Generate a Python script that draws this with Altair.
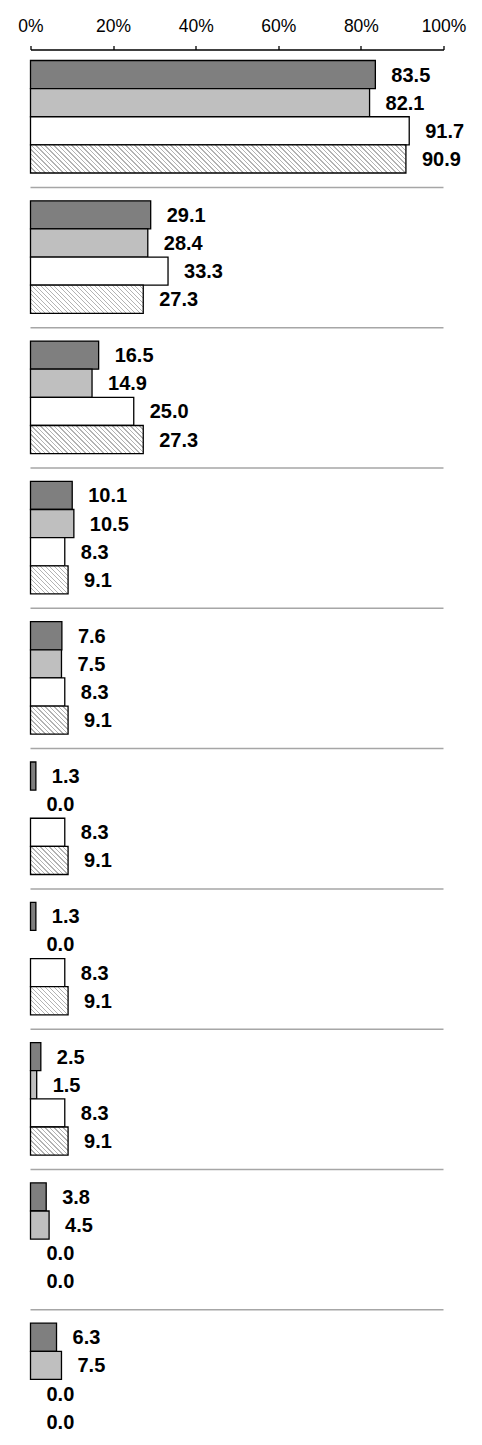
import altair as alt

# ---- data ----
groups = [f"項目{i}" for i in range(1, 11)]
series = ["系列A", "系列B", "系列C", "系列D"]
s_a = [83.5, 29.1, 16.5, 10.1, 7.6, 1.3, 1.3, 2.5, 3.8, 6.3]
s_b = [82.1, 28.4, 14.9, 10.5, 7.5, 0.0, 0.0, 1.5, 4.5, 7.5]
s_c = [91.7, 33.3, 25.0, 8.3, 8.3, 8.3, 8.3, 8.3, 0.0, 0.0]
s_d = [90.9, 27.3, 27.3, 9.1, 9.1, 9.1, 9.1, 9.1, 0.0, 0.0]
tick_values = [0, 20, 40, 60, 80, 100]

# ---- layout / style ----
PLOT_W = 413
STEP = 140.3
P_INNER = 0.198
P_OUTER = 0.0445
PLOT_H = STEP * (len(groups) - P_INNER + 2 * P_OUTER)
BAR_H = STEP * (1 - P_INNER) / len(series)


def hatch(v):
    """diagonal hatch pattern built as a linear gradient in the bar's bbox"""
    w = max(v / 100 * PLOT_W, 0.5)
    h = BAR_H
    a = (w + h) / (w * w + h * h)
    period, lw = 4.5, 1.3
    total = w + h
    stops = [{"offset": 0, "color": "#ffffff"}]
    k = 1.0
    while k < total:
        t0 = round(k / total, 5)
        t1 = round(min((k + lw) / total, 1), 5)
        stops += [
            {"offset": t0, "color": "#ffffff"},
            {"offset": t0, "color": "#b3b3b3"},
            {"offset": t1, "color": "#b3b3b3"},
            {"offset": t1, "color": "#ffffff"},
        ]
        k += period
    stops.append({"offset": 1, "color": "#ffffff"})
    return {"gradient": "linear", "x1": 0, "y1": 1,
            "x2": round(a * w, 6), "y2": round(1 - a * h, 6), "stops": stops}


solid = {"系列A": "#7f7f7f", "系列B": "#bfbfbf", "系列C": "#ffffff"}
rows = []
for gi, g in enumerate(groups):
    for s, vals in zip(series, [s_a, s_b, s_c, s_d]):
        v = vals[gi]
        rows.append({"group": g, "series": s, "value": v,
                     "fillv": hatch(v) if s == "系列D" else solid[s]})

sep_rows = [{"group": g} for g in groups[1:]]

y_scale = alt.Scale(domain=groups, paddingInner=P_INNER,
                    paddingOuter=P_OUTER, align=0.88)
yoff_scale = alt.Scale(domain=series, paddingInner=0, paddingOuter=0)
x_scale = alt.Scale(domain=[0, 100], nice=False, zero=True)

x_axis = alt.Axis(orient="top", values=tick_values, labelExpr="datum.value + '%'",
                  title=None, grid=False, domainColor="#000000", domainWidth=1.3,
                  tickColor="#000000", tickWidth=1.3, tickSize=4,
                  labelFont="Liberation Sans", labelFontSize=17.5,
                  labelColor="#000000", labelPadding=14,
                  labelBaseline="alphabetic", labelFlush=False,
                  labelOverlap=False, labelBound=False)

base = alt.Chart(alt.Data(values=rows))

sep = alt.Chart(alt.Data(values=sep_rows)).mark_rule(
    color="#a6a6a6", strokeWidth=1.5, yOffset=-13.4
).encode(
    y=alt.Y("group:N", scale=y_scale, axis=None, bandPosition=0),
    x=alt.X(datum=0, scale=x_scale, axis=x_axis),
    x2=alt.X2(datum=100),
)

bars = base.transform_filter("datum.value > 0").mark_bar(
    stroke="#000000", strokeWidth=1.3
).encode(
    y=alt.Y("group:N", scale=y_scale, axis=None),
    yOffset=alt.YOffset("series:N", scale=yoff_scale),
    x=alt.X("value:Q", scale=x_scale, axis=x_axis, stack=None),
    fill=alt.Fill("fillv:N", scale=None),
)

labels = base.mark_text(
    align="left", baseline="middle", dx=16, dy=1,
    font="Liberation Sans", fontSize=20, fontWeight="bold", color="#000000"
).encode(
    y=alt.Y("group:N", scale=y_scale, axis=None),
    yOffset=alt.YOffset("series:N", scale=yoff_scale),
    x=alt.X("value:Q", scale=x_scale, axis=x_axis, stack=None),
    text=alt.Text("value:Q", format=".1f"),
)

chart = alt.layer(sep, bars, labels).properties(
    width=PLOT_W, height=PLOT_H,
    autosize=alt.AutoSizeParams(type="none"),
    padding={"left": 22.5, "top": 41.5, "right": 30, "bottom": 4},
).configure_view(stroke=None)

chart.save("out.html", embed_options={"renderer": "svg", "actions": False})
